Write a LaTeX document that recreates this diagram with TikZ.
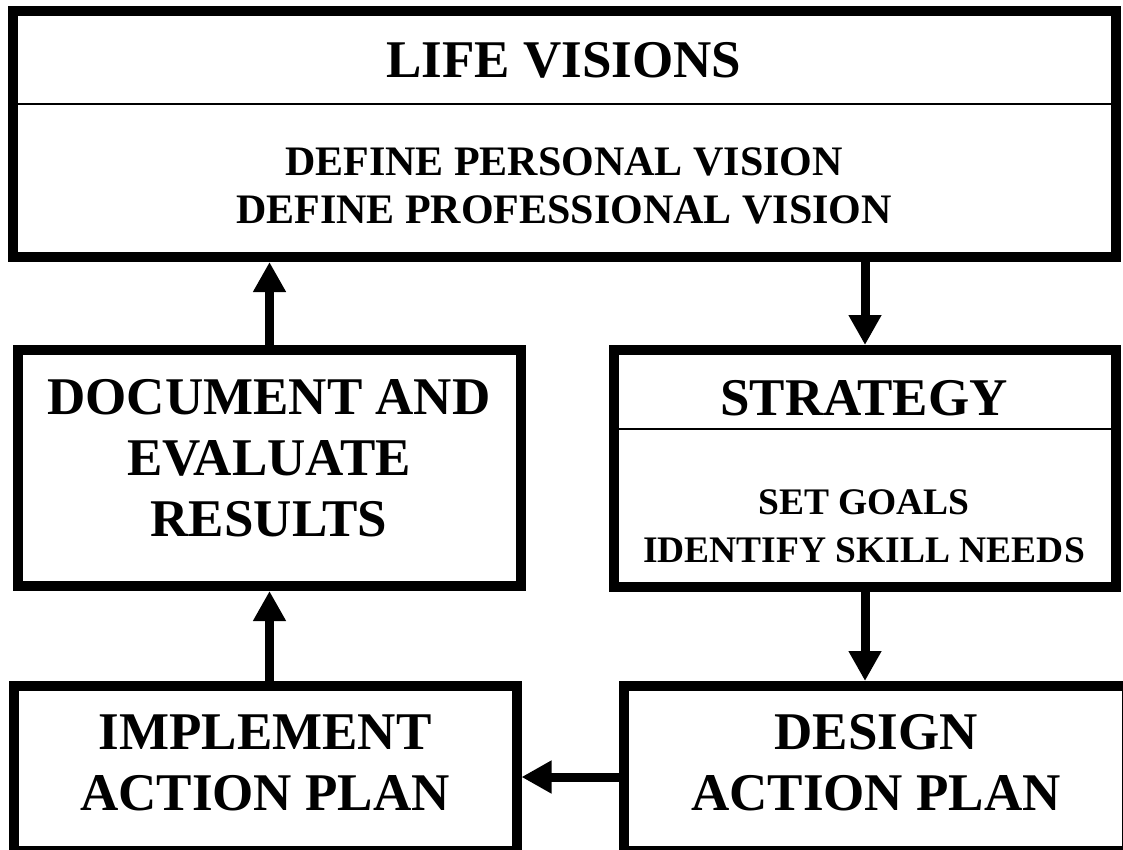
\documentclass[tikz,border=0pt]{standalone}
\usepackage{fontspec}
\setmainfont{Liberation Serif}
\usetikzlibrary{arrows.meta, positioning}

\newcommand{\headfont}{\fontsize{53}{61}\selectfont\bfseries}
\newcommand{\visionfont}{\fontsize{42}{48}\selectfont\bfseries}
\newcommand{\stepfont}{\fontsize{37.5}{48}\selectfont\bfseries}

\begin{document}
\begin{tikzpicture}[
  x=1pt, y=-1pt,
  box/.style={draw, line width=10pt, minimum width=503pt, inner sep=0pt},
  divider/.style={line width=1.5pt},
  flow/.style={-{Triangle[length=30pt, width=31pt]}, line width=9pt},
  headtext/.style={font=\headfont, align=center},
  visiontext/.style={font=\visionfont, align=center},
  steptext/.style={font=\stepfont, align=center},
]
\useasboundingbox (0,0) rectangle (1123,850);
\clip (0,0) rectangle (1123,850);

% ===== Life visions (top) =====
\node[box, minimum width=1103pt, minimum height=246pt] (vision) at (564.5,134) {};
\coordinate (visionsplit) at (0,104);
\draw[divider] (vision.west |- visionsplit) -- (vision.east |- visionsplit);
\node[headtext, anchor=base] (visiontitle) at (564,78) {LIFE VISIONS};
\node[visiontext] (visionbody) at (564,185.5) {DEFINE PERSONAL VISION\\DEFINE PROFESSIONAL VISION};

% ===== Strategy (right) =====
\node[box, minimum width=502pt, minimum height=237pt] (strategy) at (865,468.5) {};
\coordinate (strategysplit) at (0,429);
\draw[divider] (strategy.west |- strategysplit) -- (strategy.east |- strategysplit);
\node[headtext, anchor=base] (strategytitle) at (864,415) {STRATEGY};
\node[steptext] (strategybody) at (864,526) {SET GOALS\\IDENTIFY SKILL NEEDS};

% ===== Document and evaluate (left) =====
\node[box, minimum height=236pt] (document) at (269.5,468) {};
\node[headtext] (documenttext) at (269,458) {DOCUMENT AND\\EVALUATE\\RESULTS};

% ===== Bottom row =====
\node[box, minimum height=165pt] (implement) at (265,768.5) {};
\node[headtext] (implementtext) at (265,762.5) {IMPLEMENT\\ACTION PLAN};

\node[box, minimum height=165pt] (design) at (875.5,768.5) {};
\node[headtext] (designtext) at (876,762.5) {DESIGN\\ACTION PLAN};

% Cycle arrows
\coordinate (planlink) at ([yshift=-8.5pt]design.west);
\draw[flow] (strategy.north |- vision.south) -- (strategy.north);
\draw[flow] (strategy.south) -- (strategy.south |- design.north);
\draw[flow] (planlink) -- (planlink -| implement.east);
\draw[flow] (document.south |- implement.north) -- (document.south);
\draw[flow] (document.north) -- (document.north |- vision.south);

\end{tikzpicture}
\end{document}
